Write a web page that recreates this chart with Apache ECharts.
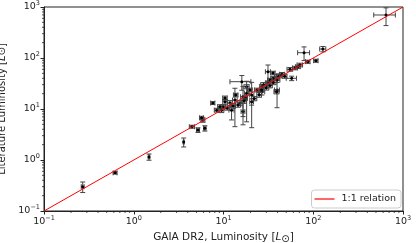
<!DOCTYPE html>
<html><head><meta charset="utf-8">
<script src="https://cdn.jsdelivr.net/npm/echarts@6/dist/echarts.min.js"></script>
<style>html,body{margin:0;padding:0;background:#fff}#c{width:416px;height:243px}</style>
</head><body><div id="c"></div>
<script>
// GAIA DR2 luminosity (x), literature luminosity (y), and symmetric errors
const gaiaLum = [0.27,0.62,1.48,3.6,4.46,5.2,5.9,5.7,6.2,7.6,8.4,9.5,9.9,10.4,11.8,12.3,13.4,15.3,16.0,16.5,16.5,18.1,18.1,20.6,20.6,23.6,26.8,26.8,31.3,31.3,35.6,39.5,39.5,39.5,35.6,55,57.5,62.6,67.6,71,79,87,107,128,647,10.4,17.5,26.5,39,33,19.7,13.7,9.1,14.5,17,22,25,28,30,33,36,42,45,48,11,12.8];
const litLum  = [0.30,0.56,1.15,2.25,4.5,3.87,6.1,6.7,4.19,13.1,9.5,9.5,11.1,13.9,13.1,9.5,15.0,13.1,34.3,8.9,17.4,27.4,20.3,18.8,13.9,23.6,27.4,21.8,32.4,53.9,50.8,43,23.6,37,40,60,40,63.7,67.5,73,127,84.6,88.5,150,697,16.4,16.4,23.6,21.8,37,23.6,18.8,11.1,12,14.5,16,19,30,26,29,33,45,48,44,10.5,11.5];
const gaiaErr = [0.01,0.03,0.03,0.05,0.3,0.2,0.3,0.3,0.2,0.4,0.5,0.6,0.6,0.6,0.7,0.8,0.8,0.8,4.2,0.8,1,1.2,1,1.2,1,1.5,1.5,2,2,2,2,2.5,2.5,3,2,4,7.5,4,4,5,12,5,6,10,175,0.6,1,1.5,2.5,2,1.2,0.8,0.5,1,1,1.5,1.5,2,2,2,2.5,3,3,3,0.7,0.8];
const litErr  = [0.07,0.03,0.16,0.45,0.3,0.4,0.6,0.5,0.5,0.8,0.8,1.0,1,1.5,1.5,3.4,10.5,1.5,11,4,10.3,2.5,14.7,14.5,2,2,3,3,3,19,4,4,13,4,3,5,4,5,5,6,38,6,6,18,265,1.5,1.5,2,2,3,2,1.5,1,1.2,1.5,1.5,2,3,2.5,3,3,4,4,4,1,1.2];
const relationLine = [[0.1,0.1],[1000,1000]];
const majorTicks = [0.1,1,10,100,1000];

const pts = gaiaLum.map((x,i)=>[x, litLum[i], gaiaErr[i], litErr[i]]);
const minorVals = [];
for (let k=0;k<majorTicks.length-1;k++) for (let m=2;m<=9;m++) minorVals.push(majorTicks[k]*m);

const chart = echarts.init(document.getElementById('c'), null, {renderer:'canvas'});
const FONT = 'DejaVu Sans';
function fmt(v){
  const e = Math.round(Math.log10(v));
  return '{b|10}{s|' + (e<0?'\u2212'+(-e):e) + '}';
}
const labelRich = {b:{fontSize:9.5,fontFamily:FONT,color:'#222'}, s:{fontSize:6.5,fontFamily:FONT,color:'#222',padding:[0,0,7,0]}};

chart.setOption({
  animation:false,
  grid:{left:44,right:13,top:7,bottom:32,outerBoundsMode:'none',containLabel:false,show:true,borderColor:'#222',borderWidth:1,backgroundColor:'transparent'},
  xAxis:{type:'log',logBase:10,min:0.1,max:1000,
    name:'{n|GAIA DR2, Luminosity [}{i|L}{o|\u2299}{n|]}',nameLocation:'middle',nameGap:17,
    nameTextStyle:{rich:{n:{fontSize:10.5,fontFamily:FONT,color:'#222'},i:{fontSize:10.5,fontFamily:FONT,fontStyle:'italic',color:'#222'},o:{fontSize:10,fontFamily:FONT,color:'#222',padding:[5,0,0,0]}}},
    axisLine:{show:true,lineStyle:{color:'#222',width:1}},
    axisTick:{show:true,length:3.5,lineStyle:{color:'#222'}},
    axisLabel:{formatter:fmt,rich:labelRich,margin:4},
    splitLine:{show:false}},
  yAxis:{type:'log',logBase:10,min:0.1,max:1000,
    name:'Literature Luminosity [{i|L}\u2299]',nameLocation:'middle',nameGap:29,nameRotate:90,
    nameTextStyle:{fontSize:10,fontFamily:FONT,color:'#222',rich:{i:{fontSize:10,fontFamily:FONT,fontStyle:'italic',color:'#222'}}},
    axisLine:{show:true,lineStyle:{color:'#222',width:1}},
    axisTick:{show:true,length:3.5,lineStyle:{color:'#222'}},
    axisLabel:{formatter:fmt,rich:labelRich,margin:4},
    splitLine:{show:false}},
  legend:{data:[{name:'1:1 relation',icon:'rect'}],right:15,bottom:35,orient:'vertical',
    backgroundColor:'#fff',borderColor:'#ccc',borderWidth:1,borderRadius:3,padding:[4,5,4,3],
    itemWidth:20,itemHeight:1.2,itemGap:4,
    textStyle:{fontSize:9.5,fontFamily:FONT,color:'#222',padding:[0,0,0,2]}},
  series:[
    {type:'custom',name:'errors',clip:false,z:3,silent:true,
      data:pts,
      renderItem:function(params,api){
        const x=api.value(0), y=api.value(1), xe=api.value(2), ye=api.value(3);
        const c=api.coord([x,y]);
        const l=api.coord([Math.max(x-xe,1e-3),y]), r=api.coord([x+xe,y]);
        const t=api.coord([x,y+ye]), b=api.coord([x,Math.max(y-ye,1e-3)]);
        const cap=2.5, st={stroke:'#444',lineWidth:1};
        return {type:'group',children:[
          {type:'line',shape:{x1:l[0],y1:c[1],x2:r[0],y2:c[1]},style:st},
          {type:'line',shape:{x1:c[0],y1:t[1],x2:c[0],y2:b[1]},style:st},
          {type:'line',shape:{x1:l[0],y1:c[1]-cap,x2:l[0],y2:c[1]+cap},style:st},
          {type:'line',shape:{x1:r[0],y1:c[1]-cap,x2:r[0],y2:c[1]+cap},style:st},
          {type:'line',shape:{x1:c[0]-cap,y1:t[1],x2:c[0]+cap,y2:t[1]},style:st},
          {type:'line',shape:{x1:c[0]-cap,y1:b[1],x2:c[0]+cap,y2:b[1]},style:st},
          {type:'circle',shape:{cx:c[0],cy:c[1],r:1.5},style:{fill:'#000'}}
        ]};
      }},
    {type:'line',name:'1:1 relation',data:relationLine,symbol:'none',z:4,
      lineStyle:{color:'#ff0000',width:1},itemStyle:{color:'#ff0000'}},
    {type:'custom',name:'minorX',clip:false,silent:true,
      data:minorVals.map(v=>[v,0.1]),
      renderItem:function(params,api){
        const p=api.coord([api.value(0),api.value(1)]);
        return {type:'line',shape:{x1:p[0],y1:p[1],x2:p[0],y2:p[1]+2},style:{stroke:'#222',lineWidth:0.8}};
      }},
    {type:'custom',name:'minorY',clip:false,silent:true,
      data:minorVals.map(v=>[0.1,v]),
      renderItem:function(params,api){
        const p=api.coord([api.value(0),api.value(1)]);
        return {type:'line',shape:{x1:p[0],y1:p[1],x2:p[0]-2,y2:p[1]},style:{stroke:'#222',lineWidth:0.8}};
      }}
  ]
});
</script></body></html>
